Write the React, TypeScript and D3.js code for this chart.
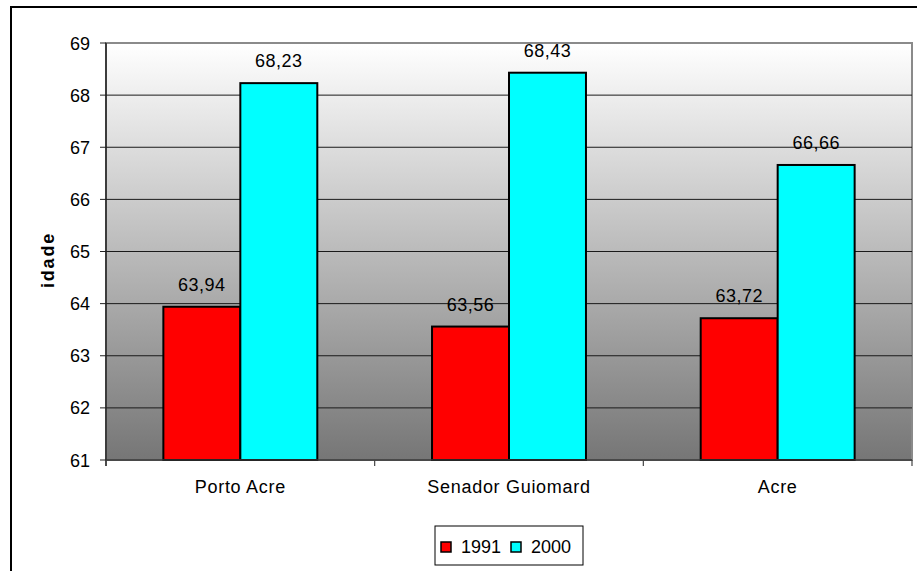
import React from "react";
import * as d3 from "d3";

const categories = ["Porto Acre", "Senador Guiomard", "Acre"];
const seriesNames = ["1991", "2000"];
const values1991 = [63.94, 63.56, 63.72];
const values2000 = [68.23, 68.43, 66.66];
const yTicks = [61, 62, 63, 64, 65, 66, 67, 68, 69];
const seriesColors = ["#ff0000", "#00ffff"];

const W = 917;
const H = 571;
const plot = { left: 106, right: 912, top: 43, bottom: 460 };
const FONT = "'Liberation Sans', Arial, sans-serif";

export default function App() {
  const y = d3.scaleLinear().domain([61, 69]).range([plot.bottom, plot.top]);
  const x0 = d3.scaleBand<string>().domain(categories).range([plot.left, plot.right]).padding(0);
  const groupW = x0.bandwidth() * 0.573;
  const x1 = d3.scaleBand<string>().domain(seriesNames).range([0, groupW]).padding(0);
  const seriesValues = [values1991, values2000];
  const fmt = (v: number) => d3.format(".2f")(v).replace(".", ",");

  return (
    <svg width={W} height={H} style={{ position: "absolute", left: 0, top: 0 }} fontFamily={FONT}>
      <defs>
        <linearGradient id="bg" x1="0" y1="0" x2="0" y2="1">
          <stop offset="0" stopColor="#ffffff" />
          <stop offset="1" stopColor="#767676" />
        </linearGradient>
      </defs>
      <rect x={0} y={0} width={W} height={H} fill="#fff" />
      {/* outer chart frame */}
      <rect x={11} y={7} width={W + 10} height={H + 10} fill="none" stroke="#000" strokeWidth={2} />

      {/* plot area */}
      <rect x={plot.left} y={plot.top} width={plot.right - plot.left} height={plot.bottom - plot.top} fill="url(#bg)" stroke="#8a8a8a" strokeWidth={2} />
      {yTicks.filter((t) => t > 61 && t < 69).map((t) => (
        <line key={t} x1={plot.left} x2={plot.right} y1={y(t)} y2={y(t)} stroke="#1a1a1a" strokeWidth={1} />
      ))}

      {/* bars */}
      {categories.map((c, i) => {
        const gx = (x0(c) as number) + (x0.bandwidth() - groupW) / 2;
        return seriesNames.map((s, j) => {
          const v = seriesValues[j][i];
          const bx = gx + (x1(s) as number);
          return (
            <g key={c + s}>
              <rect x={bx} y={y(v)} width={x1.bandwidth()} height={plot.bottom - y(v)} fill={seriesColors[j]} stroke="#000" strokeWidth={2} />
              <text x={bx + x1.bandwidth() / 2} y={y(v) - 16} textAnchor="middle" fontSize={18} letterSpacing={0.5} fill="#000">
                {fmt(v)}
              </text>
            </g>
          );
        });
      })}

      {/* axes */}
      <line x1={plot.left} x2={plot.left} y1={plot.top} y2={plot.bottom + 6} stroke="#222" strokeWidth={1.5} />
      <line x1={plot.left} x2={plot.right} y1={plot.bottom} y2={plot.bottom} stroke="#333" strokeWidth={1.5} />
      {yTicks.map((t) => (
        <g key={t}>
          <line x1={plot.left - 6} x2={plot.left} y1={y(t)} y2={y(t)} stroke="#222" strokeWidth={1} />
          <text x={90} y={y(t) + 6.5} textAnchor="end" fontSize={18} fill="#000">
            {t}
          </text>
        </g>
      ))}
      {[...categories.map((c) => x0(c) as number), plot.right].map((bx, i) => (
        <line key={i} x1={bx} x2={bx} y1={plot.bottom} y2={plot.bottom + 6} stroke="#444" strokeWidth={1.2} />
      ))}
      {categories.map((c) => (
        <text key={c} x={(x0(c) as number) + x0.bandwidth() / 2} y={493} textAnchor="middle" fontSize={18} letterSpacing={0.7} fill="#000">
          {c}
        </text>
      ))}

      {/* y axis title */}
      <text transform="translate(54,260) rotate(-90)" textAnchor="middle" fontSize={18} fontWeight="bold" letterSpacing={1.8} fill="#000">
        idade
      </text>

      {/* legend */}
      <rect x={435} y={526} width={148} height={39} fill="#fff" stroke="#000" strokeWidth={1} />
      {seriesNames.map((s, j) => {
        const lx = 441 + j * 70;
        return (
          <g key={s}>
            <rect x={lx} y={542} width={10} height={10} fill={seriesColors[j]} stroke="#000" strokeWidth={1.5} />
            <text x={lx + 20} y={552.5} fontSize={18} fill="#000">
              {s}
            </text>
          </g>
        );
      })}
    </svg>
  );
}
